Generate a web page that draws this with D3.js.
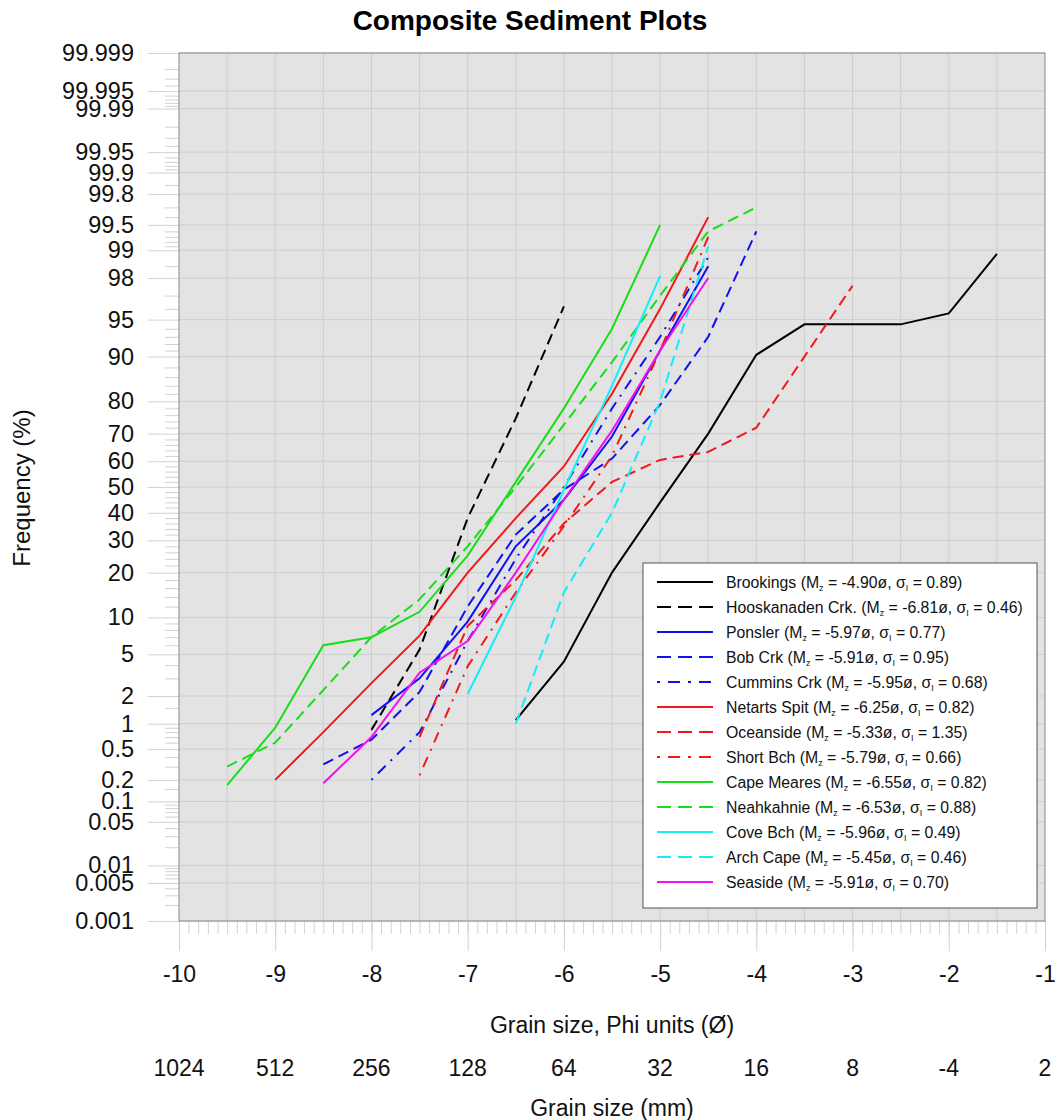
<!DOCTYPE html>
<html>
  <head>
    <title>Composite Sediment Plots</title>
    <script src="https://d3js.org/d3.v7.min.js"></script>
    <style>
      body { margin: 0; background: #fff; }
      text { font-family: "Liberation Sans", Arial, sans-serif; }
    </style>
  </head>
  <body>
    <div id="chart"></div>
    <script>
// Cumulative frequency (%) read at each phi class, one array per site
const brookings   = [[-6.5, 1.1], [-6, 4.3], [-5.5, 20], [-5, 44], [-4.5, 70], [-4, 90.3], [-3.5, 94.5], [-3, 94.5], [-2.5, 94.5], [-2, 95.6], [-1.5, 98.9]];
const hooskanaden = [[-8, 0.85], [-7.5, 5.5], [-7, 38], [-6.5, 75], [-6, 96.2]];
const ponsler     = [[-8, 1.25], [-7.5, 3], [-7, 9.3], [-6.5, 28], [-6, 45], [-5.5, 69], [-5, 91], [-4.5, 98.5]];
const bobCrk      = [[-8.5, 0.32], [-8, 0.65], [-7.5, 2.2], [-7, 12], [-6.5, 32], [-6, 49], [-5.5, 61], [-5, 79], [-4.5, 93], [-4, 99.4]];
const cumminsCrk  = [[-8, 0.2], [-7.5, 0.8], [-7, 6.5], [-6.5, 24], [-6, 50], [-5.5, 78], [-5, 93], [-4.5, 98.8]];
const netartsSpit = [[-9, 0.2], [-8.5, 0.8], [-8, 2.7], [-7.5, 7.2], [-7, 20], [-6.5, 38], [-6, 58], [-5.5, 82], [-5, 96], [-4.5, 99.6]];
const oceanside   = [[-7.5, 0.7], [-7, 8.6], [-6.5, 18], [-6, 36], [-5.5, 52], [-5, 60.5], [-4.5, 63.5], [-4, 72], [-3.5, 90], [-3, 97.6]];
const shortBch    = [[-7.5, 0.23], [-7, 3.9], [-6.5, 15], [-6, 35], [-5.5, 62], [-5, 91], [-4.5, 99.3]];
const capeMeares  = [[-9.5, 0.17], [-9, 0.9], [-8.5, 6], [-8, 7], [-7.5, 11], [-7, 25], [-6.5, 52], [-6, 78], [-5.5, 94], [-5, 99.5]];
const neahkahnie  = [[-9.5, 0.3], [-9, 0.6], [-8.5, 2.3], [-8, 7], [-7.5, 13.5], [-7, 28], [-6.5, 50], [-6, 73], [-5.5, 89], [-5, 97], [-4.5, 99.4], [-4, 99.7]];
const coveBch     = [[-7, 2.1], [-6.5, 14], [-6, 49], [-5.5, 84], [-5, 98.1]];
const archCape    = [[-6.5, 1.0], [-6, 15], [-5.5, 40], [-5, 80], [-4.5, 99.1]];
const seaside     = [[-8.5, 0.18], [-8, 0.7], [-7.5, 3.4], [-7, 6.5], [-6.5, 20], [-6, 45], [-5.5, 71], [-5, 91], [-4.5, 98]];

const series = [brookings, hooskanaden, ponsler, bobCrk, cumminsCrk, netartsSpit, oceanside,
  shortBch, capeMeares, neahkahnie, coveBch, archCape, seaside];
const siteNames = ["Brookings", "Hooskanaden Crk.", "Ponsler", "Bob Crk", "Cummins Crk", "Netarts Spit",
  "Oceanside", "Short Bch", "Cape Meares", "Neahkahnie", "Cove Bch", "Arch Cape", "Seaside"];
const meanPhi = ["-4.90", "-6.81", "-5.97", "-5.91", "-5.95", "-6.25", "-5.33", "-5.79", "-6.55", "-6.53", "-5.96", "-5.45", "-5.91"];
const sortingSigma = ["0.89", "0.46", "0.77", "0.95", "0.68", "0.82", "1.35", "0.66", "0.82", "0.88", "0.49", "0.46", "0.70"];

// line styles per site
const colors = ["#000", "#000", "#1010f0", "#1010f0", "#1010f0", "#f01818", "#f01818", "#f01818",
  "#18dd18", "#18dd18", "#10eef8", "#10eef8", "#f010f0"];
const dashes = [null, "11,6", null, "11,6", "2,7,11,7", null, "11,6", "2,7,11,7", null, "11,6", null, "11,6", null];

// axis ticks
const phiTicks = [-10, -9, -8, -7, -6, -5, -4, -3, -2, -1];
const mmLabels = ["1024", "512", "256", "128", "64", "32", "16", "8", "-4", "2"];
const yTicks = [99.999, 99.995, 99.99, 99.95, 99.9, 99.8, 99.5, 99, 98, 95, 90, 80, 70, 60, 50, 40, 30, 20, 10,
  5, 2, 1, 0.5, 0.2, 0.1, 0.05, 0.01, 0.005, 0.001];
const yMinor = [0.002, 0.003, 0.004, 0.006, 0.007, 0.008, 0.009, 0.02, 0.03, 0.04, 0.06, 0.07, 0.08, 0.09,
  0.15, 0.3, 0.4, 0.6, 0.7, 0.8, 0.9, 1.5, 3, 4, 6, 7, 8, 9,
  12, 14, 16, 18, 22, 24, 26, 28, 32, 34, 36, 38, 42, 44, 46, 48, 52, 54, 56, 58,
  62, 64, 66, 68, 72, 74, 76, 78, 82, 84, 86, 88, 91, 92, 93, 94, 96, 97, 98.5,
  99.1, 99.2, 99.3, 99.4, 99.6, 99.7, 99.85, 99.91, 99.92, 99.93, 99.94, 99.96, 99.97, 99.98,
  99.991, 99.992, 99.993, 99.994, 99.996, 99.997, 99.998];

const width = 1060;
const height = 1120;
const plotLeft = 179, plotRight = 1045, plotTop = 53, plotBottom = 921;

// inverse normal cdf (Acklam)
function probit(p) {
  const a = [-3.969683028665376e+01, 2.209460984245205e+02, -2.759285104469687e+02, 1.383577518672690e+02, -3.066479806614716e+01, 2.506628277459239e+00];
  const b = [-5.447609879822406e+01, 1.615858368580409e+02, -1.556989798598866e+02, 6.680131188771972e+01, -1.328068155288572e+01];
  const c = [-7.784894002430293e-03, -3.223964580411365e-01, -2.400758277161838e+00, -2.549732539343734e+00, 4.374664141464968e+00, 2.938163982698783e+00];
  const d = [7.784695709041462e-03, 3.224671290700398e-01, 2.445134137142996e+00, 3.754408661907416e+00];
  const pl = 0.02425;
  if (p < pl) {
    const q = Math.sqrt(-2 * Math.log(p));
    return (((((c[0]*q+c[1])*q+c[2])*q+c[3])*q+c[4])*q+c[5]) / ((((d[0]*q+d[1])*q+d[2])*q+d[3])*q+1);
  }
  if (p > 1 - pl) {
    const q = Math.sqrt(-2 * Math.log(1 - p));
    return -(((((c[0]*q+c[1])*q+c[2])*q+c[3])*q+c[4])*q+c[5]) / ((((d[0]*q+d[1])*q+d[2])*q+d[3])*q+1);
  }
  const q = p - 0.5, r = q * q;
  return (((((a[0]*r+a[1])*r+a[2])*r+a[3])*r+a[4])*r+a[5])*q / (((((b[0]*r+b[1])*r+b[2])*r+b[3])*r+b[4])*r+1);
}
const z = pct => probit(pct / 100);

function createChart() {
  const x = d3.scaleLinear().domain([-10, -1]).range([plotLeft, plotRight]);
  const y = d3.scaleLinear().domain([z(0.001), z(99.999)]).range([plotBottom, plotTop]);

  const svg = d3.select("#chart").append("svg")
    .attr("width", width)
    .attr("height", height)
    .attr("viewBox", [0, 0, width, height]);

  // Title
  svg.append("text")
    .attr("x", 530)
    .attr("y", 30)
    .attr("text-anchor", "middle")
    .style("font-size", "28px")
    .style("font-weight", "bold")
    .text("Composite Sediment Plots");

  // Plot background
  svg.append("rect")
    .attr("x", plotLeft).attr("y", plotTop)
    .attr("width", plotRight - plotLeft).attr("height", plotBottom - plotTop)
    .attr("fill", "#e3e3e3");

  // Grid
  const grid = svg.append("g").attr("stroke", "#cecece").attr("stroke-width", 1);
  grid.selectAll("line.v")
    .data(d3.range(-9.5, -1, 0.5))
    .join("line")
    .attr("class", "v")
    .attr("x1", d => x(d)).attr("x2", d => x(d))
    .attr("y1", plotTop).attr("y2", plotBottom);
  grid.selectAll("line.h")
    .data(yTicks)
    .join("line")
    .attr("class", "h")
    .attr("x1", plotLeft).attr("x2", plotRight)
    .attr("y1", d => y(z(d))).attr("y2", d => y(z(d)));

  // Y axis: minor then major ticks
  const yMinorAxis = svg.append("g")
    .attr("transform", `translate(${plotLeft},0)`)
    .call(d3.axisLeft(y).tickValues(yMinor.map(z)).tickSize(14).tickFormat(""));
  const yAxis = svg.append("g")
    .attr("transform", `translate(${plotLeft},0)`)
    .call(d3.axisLeft(y).tickValues(yTicks.map(z)).tickSize(31).tickPadding(14)
      .tickFormat((d, i) => yTicks[i]));
  [yMinorAxis, yAxis].forEach(g => {
    g.select(".domain").remove();
    g.selectAll(".tick line").attr("stroke", "#d2d2d2");
  });
  yAxis.selectAll(".tick text")
    .style("font-size", "23.5px")
    .attr("fill", "#111");

  // X axis: minor then major ticks
  const xMinorAxis = svg.append("g")
    .attr("transform", `translate(0,${plotBottom})`)
    .call(d3.axisBottom(x).tickValues(d3.range(-10, -0.95, 0.1)).tickSize(13).tickFormat(""));
  const xAxis = svg.append("g")
    .attr("transform", `translate(0,${plotBottom})`)
    .call(d3.axisBottom(x).tickValues(phiTicks).tickSize(30).tickPadding(15).tickFormat(d => d));
  [xMinorAxis, xAxis].forEach(g => {
    g.select(".domain").remove();
    g.selectAll(".tick line").attr("stroke", "#d2d2d2");
  });
  xAxis.selectAll(".tick text")
    .style("font-size", "23px")
    .attr("fill", "#111");

  // mm labels under phi labels
  svg.append("g")
    .selectAll("text")
    .data(phiTicks)
    .join("text")
    .attr("x", d => x(d))
    .attr("y", 1076)
    .attr("text-anchor", "middle")
    .style("font-size", "23px")
    .attr("fill", "#111")
    .text((d, i) => mmLabels[i]);

  // Plot border
  svg.append("rect")
    .attr("x", plotLeft).attr("y", plotTop)
    .attr("width", plotRight - plotLeft).attr("height", plotBottom - plotTop)
    .attr("fill", "none")
    .attr("stroke", "#8a8a8a");

  // Axis titles
  svg.append("text")
    .attr("x", (plotLeft + plotRight) / 2)
    .attr("y", 1033)
    .attr("text-anchor", "middle")
    .style("font-size", "23px")
    .attr("fill", "#111")
    .text("Grain size, Phi units (Ø)");

  svg.append("text")
    .attr("x", (plotLeft + plotRight) / 2)
    .attr("y", 1116)
    .attr("text-anchor", "middle")
    .style("font-size", "23px")
    .attr("fill", "#111")
    .text("Grain size (mm)");

  svg.append("text")
    .attr("transform", "rotate(-90)")
    .attr("x", -488)
    .attr("y", 30)
    .attr("text-anchor", "middle")
    .style("font-size", "24px")
    .attr("fill", "#111")
    .text("Frequency (%)");

  // Lines
  const line = d3.line()
    .x(d => x(d[0]))
    .y(d => y(z(d[1])));

  svg.append("g")
    .selectAll("path")
    .data(series)
    .join("path")
    .attr("fill", "none")
    .attr("stroke", (d, i) => colors[i])
    .attr("stroke-width", 2)
    .attr("stroke-dasharray", (d, i) => dashes[i])
    .attr("d", line);

  // Legend
  const legend = svg.append("g");
  legend.append("rect")
    .attr("x", 643).attr("y", 563)
    .attr("width", 394).attr("height", 345)
    .attr("fill", "#fff")
    .attr("stroke", "#555");

  const rows = legend.selectAll("g.row")
    .data(siteNames)
    .join("g")
    .attr("class", "row")
    .attr("transform", (d, i) => `translate(0,${582 + i * 25})`);

  rows.append("line")
    .attr("x1", 657).attr("x2", 713)
    .attr("stroke", (d, i) => colors[i])
    .attr("stroke-width", 2)
    .attr("stroke-dasharray", (d, i) => dashes[i] ? (dashes[i] === "11,6" ? "14,7" : "3,8,12,8") : null);

  const label = rows.append("text")
    .attr("x", 726)
    .attr("y", 5.5)
    .style("font-size", "15.8px")
    .attr("fill", "#111");
  label.append("tspan").text(d => `${d} (M`);
  label.append("tspan").attr("dy", 3).style("font-size", "9px").text("z");
  label.append("tspan").attr("dy", -3).text((d, i) => ` = ${meanPhi[i]}ø, σ`);
  label.append("tspan").attr("dy", 3).style("font-size", "9px").text("I");
  label.append("tspan").attr("dy", -3).text((d, i) => ` = ${sortingSigma[i]})`);
}

createChart();
    </script>
  </body>
</html>
